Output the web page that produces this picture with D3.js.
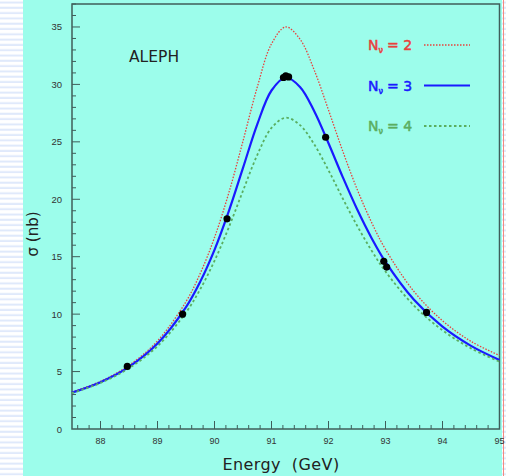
<!DOCTYPE html>
<html>
<head>
<meta charset="utf-8">
<script src="https://cdn.jsdelivr.net/npm/d3@7"></script>
<style>
  html, body { margin: 0; padding: 0; background: #fff; }
  svg { display: block; }
</style>
</head>
<body>
<div id="chart"></div>
<script>
// energy grid (GeV) the curves were read at
const curveE = [87.5, 88.0, 88.5, 89.0, 89.5, 89.75, 90.0, 90.25, 90.5, 90.75, 91.0, 91.25,
                91.5, 91.75, 92.0, 92.25, 92.5, 92.75, 93.0, 93.5, 94.0, 94.5, 95.0];
// cross sections (nb) for each number of neutrino families
const sigmaN2 = [3.21, 4.15, 5.54, 7.67, 11.09, 13.55, 16.67, 20.54, 25.07, 29.76, 33.53, 35.0,
                 33.94, 31.24, 27.77, 24.19, 20.9, 18.05, 15.64, 11.97, 9.43, 7.63, 6.4];
const sigmaN3 = [3.17, 4.08, 5.41, 7.44, 10.61, 12.83, 15.6, 18.95, 22.73, 26.52, 29.47, 30.6,
                 29.78, 27.67, 24.88, 21.93, 19.15, 16.68, 14.55, 11.25, 8.91, 7.24, 6.01];
const sigmaN4 = [3.13, 4.01, 5.29, 7.21, 10.15, 12.17, 14.64, 17.54, 20.74, 23.85, 26.21, 27.1,
                 26.46, 24.78, 22.52, 20.07, 17.72, 15.58, 13.71, 10.74, 8.59, 7.02, 5.86];

// ALEPH measurements
const dataE = [88.47, 89.44, 90.22, 91.21, 91.25, 91.3, 91.95, 92.97, 93.02, 93.72];
const dataSigma = [5.45, 10.0, 18.3, 30.6, 30.75, 30.65, 25.4, 14.6, 14.1, 10.15];

const xTickLabels = [88, 89, 90, 91, 92, 93, 94, 95];
const yTickLabels = [0, 5, 10, 15, 20, 25, 30, 35];

const legendLabels = ["2", "3", "4"];
const seriesColors = ["#e8413c", "#1a1aff", "#5aae60"];

const width = 506, height = 476;
const plot = {left: 72, right: 499.5, top: 4, bottom: 429};
const axisColor = "#3f5e5a";

const svg = d3.select("#chart").append("svg")
    .attr("width", width)
    .attr("height", height);

// page background: striped margins and the cyan panel
const stripes = svg.append("defs").append("pattern")
    .attr("id", "stripes")
    .attr("width", 6).attr("height", 5.3)
    .attr("patternUnits", "userSpaceOnUse");
stripes.append("rect").attr("width", 6).attr("height", 5.3).attr("fill", "#ffffff");
stripes.append("rect").attr("y", 1.5).attr("width", 6).attr("height", 2).attr("fill", "#dfe9fb");

svg.append("rect").attr("width", width).attr("height", height).attr("fill", "url(#stripes)");
svg.append("rect")
    .attr("x", 23).attr("y", 0)
    .attr("width", 479).attr("height", height)
    .attr("fill", "#9cfdeb");
svg.append("line")
    .attr("x1", 503.5).attr("x2", 503.5)
    .attr("y1", 0).attr("y2", height)
    .attr("stroke", "#f08a80").attr("stroke-width", 1);

const x = d3.scaleLinear().domain([87.5, 95]).range([plot.left, plot.right]);
const y = d3.scaleLinear().domain([0, 37]).range([plot.bottom, plot.top]);

// frame
svg.append("rect")
    .attr("x", plot.left).attr("y", plot.top)
    .attr("width", plot.right - plot.left)
    .attr("height", plot.bottom - plot.top)
    .attr("fill", "none")
    .attr("stroke", axisColor)
    .attr("stroke-width", 1.5);

// ticks pointing into the plot
const xMinor = d3.range(87.6, 95.01, 0.2);
svg.append("g").selectAll("line")
    .data(xMinor)
    .join("line")
    .attr("x1", d => x(d)).attr("x2", d => x(d))
    .attr("y1", plot.bottom)
    .attr("y2", d => Math.abs(d - Math.round(d)) < 0.01 ? plot.bottom - 8 : plot.bottom - 4)
    .attr("stroke", axisColor).attr("stroke-width", 1);

const yMinor = d3.range(1, 37.01, 1);
svg.append("g").selectAll("line")
    .data(yMinor)
    .join("line")
    .attr("y1", d => y(d)).attr("y2", d => y(d))
    .attr("x1", plot.left)
    .attr("x2", d => d % 5 === 0 ? plot.left + 8 : plot.left + 4)
    .attr("stroke", axisColor).attr("stroke-width", 1);

const tickFont = "'Liberation Sans', Arial, sans-serif";
svg.append("g").selectAll("text")
    .data(xTickLabels)
    .join("text")
    .attr("x", d => x(d))
    .attr("y", plot.bottom + 15)
    .attr("text-anchor", "middle")
    .attr("font-family", tickFont)
    .attr("font-size", 9)
    .attr("fill", "#333")
    .text(d => d);

svg.append("g").selectAll("text")
    .data(yTickLabels)
    .join("text")
    .attr("x", plot.left - 10)
    .attr("y", d => y(d) + 3.5)
    .attr("text-anchor", "end")
    .attr("font-family", tickFont)
    .attr("font-size", 9.5)
    .attr("fill", "#333")
    .text(d => d);

// axis titles
svg.append("text")
    .attr("x", 281)
    .attr("y", 470)
    .attr("text-anchor", "middle")
    .attr("font-family", "'DejaVu Sans', sans-serif")
    .attr("font-size", 16)
    .attr("letter-spacing", 0.4)
    .attr("fill", "#222")
    .attr("xml:space", "preserve")
    .text("Energy  (GeV)");

svg.append("text")
    .attr("transform", "translate(38,234) rotate(-90)")
    .attr("text-anchor", "middle")
    .attr("font-family", "'DejaVu Sans', sans-serif")
    .attr("font-size", 15)
    .attr("fill", "#222")
    .attr("xml:space", "preserve")
    .text("σ (nb)");

svg.append("text")
    .attr("x", 129)
    .attr("y", 62)
    .attr("font-family", "'DejaVu Sans', sans-serif")
    .attr("font-size", 15.5)
    .attr("fill", "#222")
    .text("ALEPH");

// curves
const curves = [sigmaN2, sigmaN3, sigmaN4];
const dashes = ["1.5,1.5", null, "2.5,2.5"];
const widths = [1.3, 2.2, 1.8];

const line = d3.line()
    .x((d, i) => x(curveE[i]))
    .y(d => y(d))
    .curve(d3.curveCatmullRom.alpha(0.5));

svg.append("g").selectAll("path")
    .data(curves)
    .join("path")
    .attr("d", d => line(d))
    .attr("fill", "none")
    .attr("stroke", (d, i) => seriesColors[i])
    .attr("stroke-width", (d, i) => widths[i])
    .attr("stroke-dasharray", (d, i) => dashes[i]);

// data points
svg.append("g").selectAll("circle")
    .data(dataE)
    .join("circle")
    .attr("cx", d => x(d))
    .attr("cy", (d, i) => y(dataSigma[i]))
    .attr("r", 3.6)
    .attr("fill", "#000");

// legend
const legend = svg.append("g").selectAll("g")
    .data(legendLabels)
    .join("g")
    .attr("transform", (d, i) => `translate(368,${50 + i * 40.5})`);

const lbl = legend.append("text")
    .attr("font-family", "'DejaVu Sans', sans-serif")
    .attr("font-size", 14)
    .attr("fill", (d, i) => seriesColors[i])
    .attr("stroke", (d, i) => seriesColors[i])
    .attr("stroke-width", 0.5);
lbl.append("tspan").text("N");
lbl.append("tspan").attr("font-size", 8).attr("dy", 3).text("ν");
lbl.append("tspan").attr("dy", -3).attr("dx", 4).text(d => "= " + d);

legend.append("line")
    .attr("x1", 56).attr("x2", 102)
    .attr("y1", -5).attr("y2", -5)
    .attr("stroke", (d, i) => seriesColors[i])
    .attr("stroke-width", (d, i) => widths[i])
    .attr("stroke-dasharray", (d, i) => dashes[i]);
</script>
</body>
</html>
